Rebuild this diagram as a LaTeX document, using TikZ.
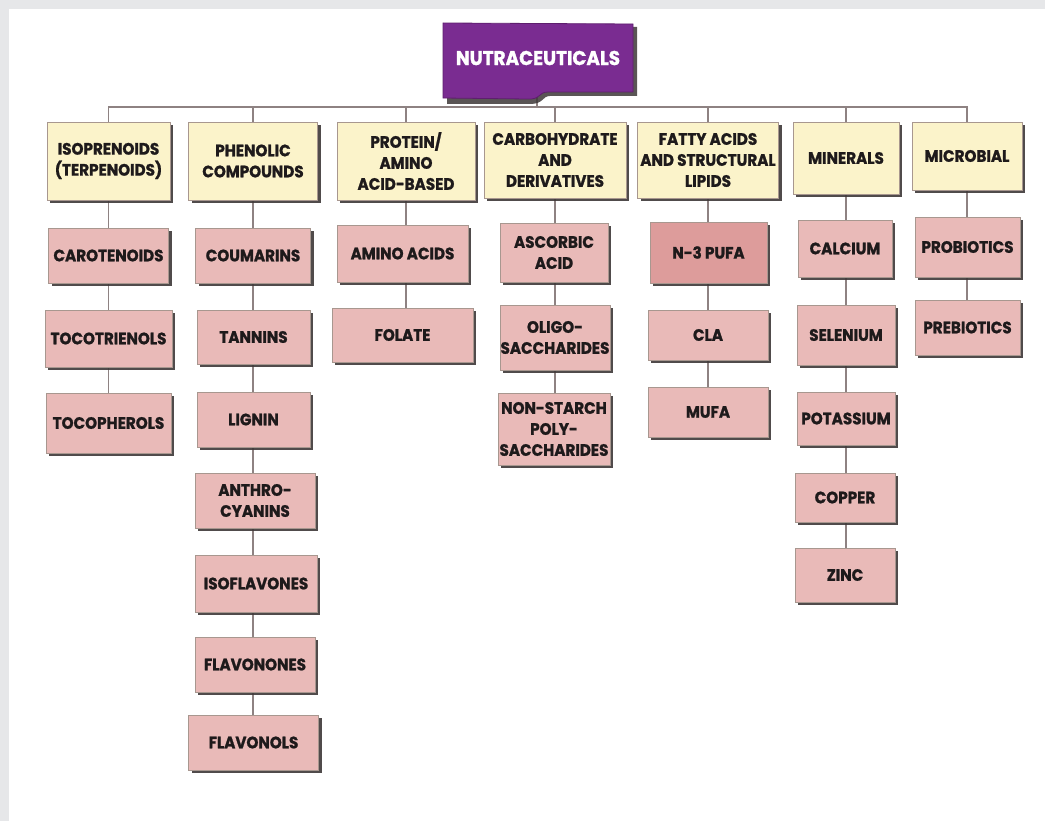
\documentclass[tikz,border=0pt]{standalone}
\usepackage{fontspec}
\setmainfont{Poppins}[BoldFeatures={FakeBold=1.2, FakeStretch=0.92}]
\usetikzlibrary{shadows,backgrounds}
\definecolor{hdrfill}{HTML}{FBF3CA}
\definecolor{leaffill}{HTML}{E9BAB8}
\definecolor{leafdark}{HTML}{DD9C9B}
\definecolor{boxline}{HTML}{A8978F}
\definecolor{txt}{HTML}{1E1A1B}
\definecolor{shadowc}{HTML}{3E3838}
\definecolor{connc}{HTML}{8E8282}
\definecolor{purp}{HTML}{7A2C91}
\definecolor{purpline}{HTML}{5E1E6E}
\definecolor{frame}{HTML}{E6E7E9}
\begin{document}
\begin{tikzpicture}[x=1pt,y=-1pt,
  box/.style={draw=boxline, line width=0.8pt, align=center,
    font=\bfseries\fontsize{16.5}{21}\selectfont, text=txt, inner sep=0pt,
    drop shadow={shadow xshift=3pt, shadow yshift=-3pt, fill=shadowc, opacity=0.9}},
  hdr/.style={box, fill=hdrfill},
  leaf/.style={box, fill=leaffill},
  sz/.style 2 args={minimum width=#1, minimum height=#2},
  conn/.style={draw=connc, line width=1.5pt}]
\useasboundingbox (0,0) rectangle (1045,821);
% title shape
\fill[shadowc, opacity=0.85] (447,27) -- (637,27) -- (637,96) -- (550,96)
  .. controls (542,96) and (544,104) .. (530,104) -- (447,104) -- cycle;
\filldraw[fill=purp, draw=purpline, line width=0.8pt] (443,23) -- (633,24) -- (633,92) -- (548,92)
  .. controls (538,92) and (541,100) .. (527,99) -- (443,98) -- cycle;
\node[font=\bfseries\fontsize{20}{22}\selectfont, text=white] (title) at (538,58) {NUTRACEUTICALS};
\coordinate (tb) at (537,97);
\coordinate (bus) at (537,107);
% headers
\node[hdr, sz={123}{78}] (iso) at (108.5,161) {ISOPRENOIDS\\(TERPENOIDS)};
\node[hdr, sz={129}{78}] (phe) at (253,161) {PHENOLIC\\COMPOUNDS};
\node[hdr, sz={138}{78}] (pro) at (406,161) {PROTEIN/\\AMINO\\ACID-BASED};
\node[hdr, sz={142}{76}] (carb) at (555,160) {CARBOHYDRATE\\AND\\DERIVATIVES};
\node[hdr, sz={141}{76}] (fat) at (708,160) {FATTY ACIDS\\AND STRUCTURAL\\LIPIDS};
\node[hdr, sz={106}{72}] (min) at (846,158) {MINERALS};
\node[hdr, sz={110}{68}] (mic) at (967,156) {MICROBIAL};
% column 1
\node[leaf, sz={120}{55}] (car) at (108.5,255.5) {CAROTENOIDS};
\node[leaf, sz={127}{57}] (toc3) at (108.5,338.5) {TOCOTRIENOLS};
\node[leaf, sz={125}{60}] (tocp) at (108.5,423) {TOCOPHEROLS};
% column 2
\node[leaf, sz={115}{55}] (cou) at (253,255.5) {COUMARINS};
\node[leaf, sz={113}{54}] (tan) at (253.5,337) {TANNINS};
\node[leaf, sz={113}{55}] (lig) at (253.5,419.5) {LIGNIN};
\node[leaf, sz={120}{55}] (ant) at (255,500.5) {ANTHRO-\\CYANINS};
\node[leaf, sz={122}{57}] (isf) at (256,583.5) {ISOFLAVONES};
\node[leaf, sz={120}{55}] (flvn) at (255,664.5) {FLAVONONES};
\node[leaf, sz={130}{55}] (flvl) at (253.5,742.5) {FLAVONOLS};
% column 3
\node[leaf, sz={131}{57}] (ami) at (402.5,253.5) {AMINO ACIDS};
\node[leaf, sz={141}{54}] (fol) at (402.5,335) {FOLATE};
% column 4
\node[leaf, sz={108}{59}] (asc) at (554,252.5) {ASCORBIC\\ACID};
\node[leaf, sz={110}{65}] (oli) at (555,337.5) {OLIGO-\\SACCHARIDES};
\node[leaf, sz={112}{72}] (non) at (554,429) {NON-STARCH\\POLY-\\SACCHARIDES};
% column 5
\node[box, fill=leafdark, sz={117}{61}] (n3) at (708.5,252.5) {N-3 PUFA};
\node[leaf, sz={120}{50}] (cla) at (708,335) {CLA};
\node[leaf, sz={120}{50}] (muf) at (708,412) {MUFA};
% column 6
\node[leaf, sz={94}{57}] (cal) at (845,248.5) {CALCIUM};
\node[leaf, sz={98}{60}] (sel) at (846,335) {SELENIUM};
\node[leaf, sz={98}{53}] (pot) at (846,418.5) {POTASSIUM};
\node[leaf, sz={100}{49}] (cop) at (845,497.5) {COPPER};
\node[leaf, sz={100}{54}] (zin) at (845,575) {ZINC};
% column 7
\node[leaf, sz={105}{60}] (prob) at (967.5,247) {PROBIOTICS};
\node[leaf, sz={105}{55}] (preb) at (967.5,327.5) {PREBIOTICS};
\begin{pgfonlayer}{background}
\fill[white] (0,0) rectangle (1045,821);
\fill[frame] (0,0) rectangle (1045,9);
\fill[frame] (0,0) rectangle (9,821);
\draw[conn] (tb) -- (bus);
\foreach \n in {iso,phe,pro,carb,fat,min,mic} \draw[conn] (\n.north) |- (bus);
\foreach \h/\a/\b in {iso/iso/car, iso/car/toc3, iso/toc3/tocp,
  phe/phe/cou, phe/cou/tan, phe/tan/lig, phe/lig/ant, phe/ant/isf, phe/isf/flvn, phe/flvn/flvl,
  pro/pro/ami, pro/ami/fol,
  carb/carb/asc, carb/asc/oli, carb/oli/non,
  fat/fat/n3, fat/n3/cla, fat/cla/muf,
  min/min/cal, min/cal/sel, min/sel/pot, min/pot/cop, min/cop/zin,
  mic/mic/prob, mic/prob/preb}
  \draw[conn] (\h.south |- \a.south) -- (\h.south |- \b.north);
\end{pgfonlayer}
\end{tikzpicture}
\end{document}
